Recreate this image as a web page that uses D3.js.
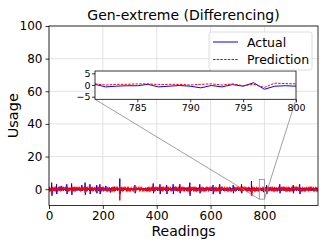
<!DOCTYPE html>
<html>
<head>
<meta charset="utf-8">
<script src="https://cdn.jsdelivr.net/npm/d3@7"></script>
<style>
body { margin: 0; background: #fff; }
svg { font-family: "DejaVu Sans", sans-serif; }
</style>
</head>
<body>
<svg id="chart" width="326" height="244"></svg>
<script>
// One char per reading, value = (charCode - 'm') / 2  ->  'm' = 0, 'o' = 1, 'k' = -1 ...
// blocks of 50 readings
const actualBlocks = [
    "mnlomknmloueknmolmknmlonkmlnsgnmlkonmlnmkpnmloqkmn",
    "lnmkomnlmonkmlmlsgnmolnmkmnlomlmnktfnmlomknolmnkmn",
    "olmnkmlonmnlkmonmlnkmornkmlnmolmkmufmnlonmkolnmlmn",
    "mksgmnlomknlmonkmlnmolnmkmnrhmlnmokmlnmsgmnlkomnlm",
    "nkmlonmlknmqnlmkonlmnmlkomnlinmlonkmnlmoknmlpmnklm",
    "nmlokmnlmnlmnzgmnlomkmnlmonkmlnmlmnmlmnmlmnmlmmnml",
    "mnmlmnmmlnmlmnmlmmnrhmnlmmnmlmnmlmmnlmnmlmnmmlnmlm",
    "mnlmnmlmnkonmlknmolmnlkmonmlnmlnmkomnthmnlmokmlnmo",
    "lmnkomlnmknmsgmnlomkmnlkonmlmnlomkmnlrgmnlmokmnlmn",
    "mlonkmnlmoksgmnlomknlmnokmlnmkomnlmnshmnlkmonmlnmo",
    "nlmkomnlmokmnlomknmlonmuenlmonkmlnmolkmnomlnkmnlom",
    "lnmkomnlmnshmnlokmnlmnkomlnmknolmnkmlnomlmnkomlnmk",
    "nmlokmnlmrgnmlokmnlmnkomlnmknolmnksgnmlomknlomnlkm",
    "nlmokmnlmnkmolnmklnomlnkomnlmknmlmrhnmlokmnlomknml",
    "onmlkmnolmkmnlmshmnolkmnomlnmknmolkmnlmomknlomnlmk",
    "nmwfnlmokmnlmkomnlmnkmolnmklnomnlllmlkllllkmlmlolm",
    "lnmkomnlrgmnlokmnlmoknmlonkmlnmolkmnlomnlmnkomlnmk",
    "nmlokmnshmnlmokmlnmokmnlomknmlonmlkmnolmknmlomnlkm",
    "nlmokmnrhmlnmkomnlmokmnlomknmlnsgmlokmnlmnkomlnmkn",
    "olmnkmlnomlmnkomlnmknmlokmnlmnkmolnmklnomlnkomnlmk"
];
const predBlocks = [
    "mnmlmnmlmnmgmnmlnmmnmnmlmnmmlnmnmlmnmlmnmmnmlmnmlm",
    "nmlmnmmlnmmnmlnpmlmnmnmlmnmmlnmnmlmnmlmnmnmlmnmmlm",
    "nmlmnmmlnmmnmlmnmlmnmnmlmnmmlnmnmlmhmnmlmnmlmnmmlm",
    "mnmlkmnmlmmnmlmnmmlnmnmlmnmlknmnmlmnmmlmnmlnmmlmnm",
    "mnmlmnmmlnmnmlmnmlmnmnmlmnmmlkmnmlmnmlmnmnmlmnmmlm",
    "mnmlmnmmlnmnm_omnlmnmnmlmnmmlmmnmlmnmlmnmnmlmnmmlm",
    "mnmlmnmmlnmnmlmnmlmnmnmlmnmmlmmnmlmnmlmnmnmlmnmmlm",
    "mnmlmnmmlnmnmlmnmlmnmnmlmnmmlmmnmlmnmkmnmnmlmnmmlm",
    "mnmlmnmmlnmnkmmnmlmnmnmlmnmmlmmnmlmnmlknmnmlmnmmlm",
    "mnmlmnmmlnmkmlmnmlmnmnmlmnmmlmmnmlmnkmmnmnmlmnmmlm",
    "mnmlmnmmlnmnmlmnmlmnmnmgmnmmlmmnmlmnmlmnmnmlmnmmlm",
    "mnmlmnmmlnkmmlmnmlmnmnmlmnmmlmmnmlmnmlmnmnmlmnmmlm",
    "mnmlmnmmlnknmlmnmlmnmnmlmnmmlmmnmlkmmlmnmnmlmnmmlm",
    "mnmlmnmmlnmnmlmnmlmnmnmlmnmmlmmnmlkmmlmnmnmlmnmmlm",
    "mnmlmnmmlnmnmlmkmlmnmnmlmnmmlmmnmlmnmlmnmnmlmnmmlm",
    "mnefmnmmlnmnmlmnmlmnmnmlmnmmlmmnmlmnmlmnmnmlmnmmlm",
    "mnmlmnmmknmnmlmnmlmnmnmlmnmmlmmnmlmnmlmnmnmlmnmmlm",
    "mnmlmnmmlnmnmlmnmlmnmnmlmnmmlmmnmlmnmlmnmnmlmnmmlm",
    "mnmlmnmmlnmnmlmnmlmnmnmlmnmmlmmnmlmnmlmnmnmlmnmmlm",
    "mnmlmnmmlnmnmlmnmlmnmnmlmnmmlmmnmlmnmlmnmnmlmnmmlm"
];

// zoomed part (readings 781..800)
const zoomStart = 781;
const zoomActual = [0.3, -0.8, -0.5, -0.3, -0.3, 0.3, -0.8, -0.5, -0.2, -0.5,
                    -1.2, -0.2, -0.8, 0.2, -0.5, 1.0, -1.8, -0.5, -0.3, -0.5];
const zoomPred   = [0.5, 0.0, 0.3, 0.3, 0.5, 0.5, 0.2, 0.3, 0.3, 0.0,
                    0.3, 0.5, 0.0, 0.5, -0.3, 0.3, -1.0, 0.8, 0.6, 0.5];

const xTicks = [0, 200, 400, 600, 800];
const yTicks = [0, 20, 40, 60, 80, 100];
const insetXTicks = [785, 790, 795, 800];
const insetYTicks = [-5, 0, 5];
const seriesNames = ["Actual", "Prediction"];

function decode(blocks) {
    return blocks.join("").split("").map(c => (c.charCodeAt(0) - 109) / 2);
}

let actual = decode(actualBlocks);
let pred = decode(predBlocks);
zoomActual.forEach((v, i) => { actual[zoomStart + i] = v; });
zoomPred.forEach((v, i) => { pred[zoomStart + i] = v; });

const svg = d3.select("#chart");

// main axes area
const L = 49, R = 318, T = 26, B = 205.5;
let x = d3.scaleLinear().domain([0, 999]).range([L, R]);
let y = d3.scaleLinear().domain([-10, 100]).range([B, T]);

svg.append("defs").append("clipPath").attr("id", "clipMain")
    .append("rect").attr("x", L).attr("y", T).attr("width", R - L).attr("height", B - T);

// grid
let grid = svg.append("g").attr("stroke", "#dcdcdc").attr("stroke-width", 0.8);
grid.selectAll(".gx").data(xTicks).enter().append("line")
    .attr("x1", d => x(d)).attr("x2", d => x(d)).attr("y1", T).attr("y2", B);
grid.selectAll(".gy").data(yTicks).enter().append("line")
    .attr("y1", d => y(d)).attr("y2", d => y(d)).attr("x1", L).attr("x2", R);

let line = d3.line().x((d, i) => x(i)).y(d => y(d));
let plot = svg.append("g").attr("clip-path", "url(#clipMain)");
plot.append("path").datum(actual).attr("d", line)
    .attr("fill", "none").attr("stroke", "blue").attr("stroke-width", 1);
plot.append("path").datum(pred).attr("d", line)
    .attr("fill", "none").attr("stroke", "red").attr("stroke-width", 1.5)
    .attr("stroke-dasharray", "3,1.5");

// axes
let xAxis = d3.axisBottom(x).tickValues(xTicks).tickSize(3.5).tickPadding(2);
let yAxis = d3.axisLeft(y).tickValues(yTicks).tickSize(3.5).tickPadding(3);
let gx = svg.append("g").attr("transform", `translate(0,${B})`).call(xAxis);
let gy = svg.append("g").attr("transform", `translate(${L},0)`).call(yAxis);
[gx, gy].forEach(g => {
    g.select(".domain").remove();
    g.selectAll("text").attr("font-size", 12).attr("font-family", "DejaVu Sans").attr("fill", "#000");
    g.selectAll("line").attr("stroke", "#000").attr("stroke-width", 0.8);
});
svg.append("rect").attr("x", L).attr("y", T).attr("width", R - L).attr("height", B - T)
    .attr("fill", "none").attr("stroke", "#000").attr("stroke-width", 0.8);

// inset
const iL = 95, iR = 296, iT = 71, iB = 99.3;
let xi = d3.scaleLinear().domain([781, 800]).range([iL, iR]);
let yi = d3.scaleLinear().domain([-6.1, 6.0]).range([iB, iT]);

// indicator box + connectors
svg.append("rect")
    .attr("x", x(781)).attr("y", y(6.0)).attr("width", x(800) - x(781)).attr("height", y(-6.1) - y(6.0))
    .attr("fill", "none").attr("stroke", "#888").attr("stroke-width", 0.8);
svg.append("line").attr("x1", iL).attr("y1", iB).attr("x2", x(781)).attr("y2", y(-6.1))
    .attr("stroke", "#888").attr("stroke-width", 0.8);
svg.append("line").attr("x1", iR).attr("y1", iB).attr("x2", x(800)).attr("y2", y(-6.1))
    .attr("stroke", "#888").attr("stroke-width", 0.8);

svg.append("rect").attr("x", iL).attr("y", iT).attr("width", iR - iL).attr("height", iB - iT)
    .attr("fill", "#fff");
svg.append("defs").append("clipPath").attr("id", "clipInset")
    .append("rect").attr("x", iL).attr("y", iT).attr("width", iR - iL).attr("height", iB - iT);

let idx = d3.range(781, 801);
let lineI = d3.line().x(d => xi(d[0])).y(d => yi(d[1]));
let inset = svg.append("g").attr("clip-path", "url(#clipInset)");
inset.append("path").datum(idx.map(i => [i, actual[i]])).attr("d", lineI)
    .attr("fill", "none").attr("stroke", "blue").attr("stroke-width", 1);
inset.append("path").datum(idx.map(i => [i, pred[i]])).attr("d", lineI)
    .attr("fill", "none").attr("stroke", "red").attr("stroke-width", 1)
    .attr("stroke-dasharray", "2.5,1.2");

let gxi = svg.append("g").attr("transform", `translate(0,${iB})`)
    .call(d3.axisBottom(xi).tickValues(insetXTicks).tickSize(3).tickPadding(2));
let gyi = svg.append("g").attr("transform", `translate(${iL},0)`)
    .call(d3.axisLeft(yi).tickValues(insetYTicks).tickSize(3).tickPadding(1.5));
[gxi, gyi].forEach(g => {
    g.select(".domain").remove();
    g.selectAll("text").attr("font-size", 9.5).attr("font-family", "DejaVu Sans").attr("fill", "#000");
    g.selectAll("line").attr("stroke", "#000").attr("stroke-width", 0.8);
});
svg.append("rect").attr("x", iL).attr("y", iT).attr("width", iR - iL).attr("height", iB - iT)
    .attr("fill", "none").attr("stroke", "#000").attr("stroke-width", 0.8);

// legend
let lg = svg.append("g");
lg.append("rect").attr("x", 209).attr("y", 32).attr("width", 103).attr("height", 38)
    .attr("rx", 2.5).attr("fill", "#fff").attr("fill-opacity", 0.8)
    .attr("stroke", "#d6d6d6").attr("stroke-width", 0.8);
lg.selectAll(".item").data(seriesNames).enter().append("g")
    .each(function(d, i) {
        let g = d3.select(this);
        let yy = 42 + i * 17.5;
        g.append("line").attr("x1", 213).attr("x2", 238).attr("y1", yy).attr("y2", yy)
            .attr("stroke", i === 0 ? "blue" : "red").attr("stroke-width", i === 0 ? 1 : 1.2)
            .attr("stroke-dasharray", i === 0 ? null : "2.5,1.2");
        g.append("text").attr("x", 247).attr("y", yy + 4.5).attr("font-size", 12.5).text(d);
    });

// labels
svg.append("text").attr("x", (L + R) / 2).attr("y", 19.5).attr("text-anchor", "middle")
    .attr("font-size", 14).text("Gen-extreme (Differencing)");
svg.append("text").attr("x", (L + R) / 2).attr("y", 236).attr("text-anchor", "middle")
    .attr("font-size", 14).text("Readings");
svg.append("text").attr("transform", `translate(18,${(T + B) / 2}) rotate(-90)`)
    .attr("text-anchor", "middle").attr("font-size", 14.5).text("Usage");
</script>
</body>
</html>
